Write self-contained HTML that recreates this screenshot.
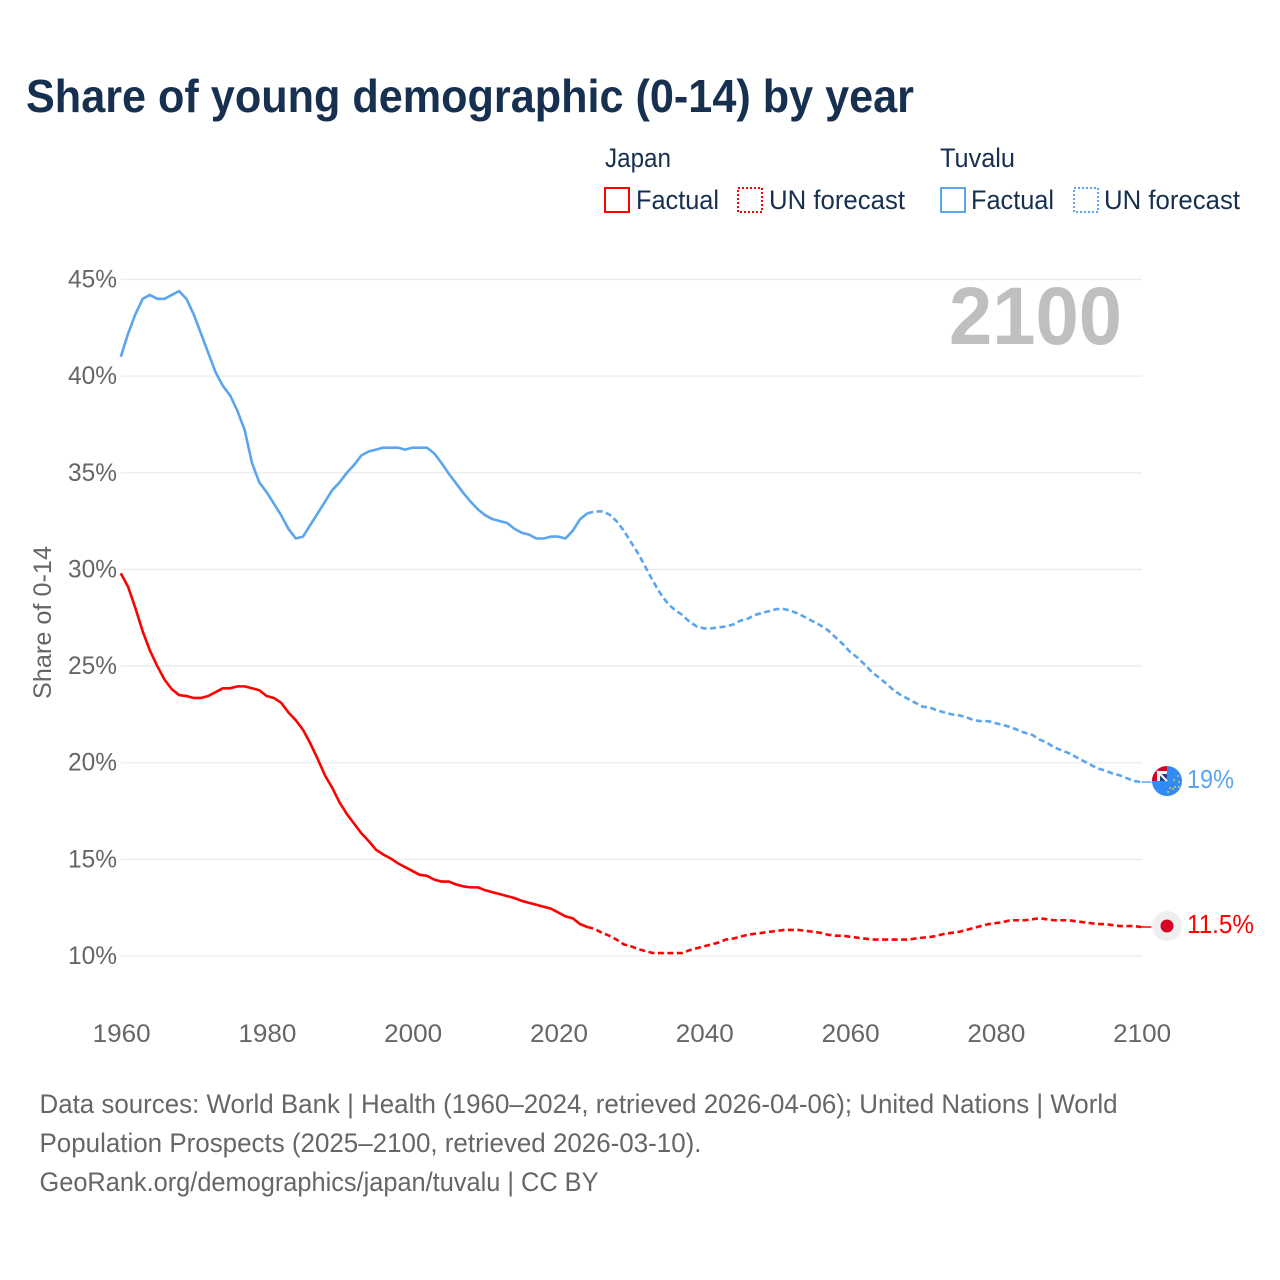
<!DOCTYPE html>
<html lang="en">
<head>
<meta charset="utf-8">
<title>Share of young demographic (0-14) by year</title>
<style>
html,body{margin:0;padding:0;background:#fff;}
svg{display:block;font-family:"Liberation Sans",sans-serif;}
.ink{fill:#17304f;}
.muted{fill:#666;}
</style>
</head>
<body>
<svg id="chart" width="1280" height="1280" viewBox="0 0 1280 1280" xmlns="http://www.w3.org/2000/svg">
  <defs>
    <clipPath id="flag-clip"><circle cx="1167" cy="781" r="15"/></clipPath>
  </defs>
  <rect width="1280" height="1280" fill="#fff"/>
  <text class="ink" x="26" y="112" font-size="46" font-weight="bold" textLength="888" lengthAdjust="spacingAndGlyphs">Share of young demographic (0-14) by year</text>

  <g>
    <text class="ink" x="605" y="167" font-size="27" textLength="66" lengthAdjust="spacingAndGlyphs">Japan</text>
    <rect x="605" y="188" width="24" height="24" fill="none" stroke="#ff0000" stroke-width="2"/>
    <text class="ink" x="636" y="209" font-size="27" textLength="83" lengthAdjust="spacingAndGlyphs">Factual</text>
    <rect x="738" y="188" width="24" height="24" fill="none" stroke="#ff0000" stroke-width="2" stroke-dasharray="2 2"/>
    <text class="ink" x="769" y="209" font-size="27" textLength="136" lengthAdjust="spacingAndGlyphs">UN forecast</text>
    <text class="ink" x="940" y="167" font-size="27" textLength="75" lengthAdjust="spacingAndGlyphs">Tuvalu</text>
    <rect x="941" y="188" width="24" height="24" fill="none" stroke="#5aa5ee" stroke-width="2"/>
    <text class="ink" x="971" y="209" font-size="27" textLength="83" lengthAdjust="spacingAndGlyphs">Factual</text>
    <rect x="1074" y="188" width="24" height="24" fill="none" stroke="#5aa5ee" stroke-width="2" stroke-dasharray="2 2"/>
    <text class="ink" x="1104" y="209" font-size="27" textLength="136" lengthAdjust="spacingAndGlyphs">UN forecast</text>
  </g>

  <g id="grid"></g>
  <g id="y-ticks"></g>
  <g id="x-ticks"></g>
  <text class="muted" transform="translate(51 699) rotate(-90)" font-size="25" textLength="153" lengthAdjust="spacingAndGlyphs">Share of 0-14</text>
  <text x="949" y="344" font-size="82" font-weight="bold" fill="#bfbfbf" textLength="173" lengthAdjust="spacingAndGlyphs">2100</text>

  <g id="series"></g>

  <g clip-path="url(#flag-clip)">
    <rect x="1150" y="764" width="34" height="34" fill="#338af3"/>
    <rect x="1150" y="764" width="17" height="17" fill="#d80027"/>
    <rect x="1157" y="771" width="10" height="10" fill="#f5f5f5"/>
    <rect x="1160" y="774" width="7" height="7" fill="#1f3f8f"/>
    <path d="M1157 771 L1167 781" stroke="#f5f5f5" stroke-width="2"/>
    <g fill="#ffda44">
      <circle cx="1178" cy="776" r="0.9"/><circle cx="1174" cy="780" r="0.9"/><circle cx="1179" cy="782" r="0.9"/>
      <circle cx="1175" cy="787" r="0.9"/><circle cx="1179" cy="787" r="0.9"/><circle cx="1170" cy="788" r="0.9"/>
      <circle cx="1173" cy="789" r="0.9"/><circle cx="1168" cy="792" r="0.9"/>
    </g>
  </g>
  <g>
    <circle cx="1167" cy="926" r="15" fill="#efefef"/>
    <circle cx="1167" cy="926" r="6.5" fill="#d80027"/>
  </g>
  <text x="1187" y="788" font-size="26" fill="#5aa5ee" textLength="47" lengthAdjust="spacingAndGlyphs">19%</text>
  <text x="1187" y="933" font-size="26" fill="#ff0000" textLength="67" lengthAdjust="spacingAndGlyphs">11.5%</text>

  <g>
    <text class="muted" x="39.5" y="1113" font-size="27" textLength="1078" lengthAdjust="spacingAndGlyphs">Data sources: World Bank | Health (1960–2024, retrieved 2026-04-06); United Nations | World</text>
    <text class="muted" x="39.5" y="1152" font-size="27" textLength="662" lengthAdjust="spacingAndGlyphs">Population Prospects (2025–2100, retrieved 2026-03-10).</text>
    <text class="muted" x="39.5" y="1191" font-size="27" textLength="559" lengthAdjust="spacingAndGlyphs">GeoRank.org/demographics/japan/tuvalu | CC BY</text>
  </g>
</svg>
<script>
const startYear = 1960;
const lastFactualYear = 2024;
const xTickLabels = [1960, 1980, 2000, 2020, 2040, 2060, 2080, 2100];
const yTickLabels = [10, 15, 20, 25, 30, 35, 40, 45];
const japanValues = [
  29.8,29.1,28.0,26.8,25.8,25.0,24.3,23.8,23.5,23.45,
  23.35,23.35,23.45,23.65,23.85,23.85,23.95,23.95,23.85,23.75,
  23.45,23.35,23.1,22.6,22.2,21.7,21.0,20.2,19.35,18.7,
  17.95,17.35,16.85,16.35,15.95,15.5,15.25,15.05,14.8,14.6,
  14.4,14.2,14.15,13.95,13.85,13.85,13.7,13.6,13.55,13.55,
  13.4,13.3,13.2,13.1,13.0,12.85,12.75,12.65,12.55,12.45,
  12.25,12.05,11.95,11.65,11.5,11.4,11.2,11.05,10.85,10.6,
  10.5,10.35,10.25,10.15,10.15,10.15,10.15,10.15,10.3,10.4,
  10.5,10.6,10.7,10.85,10.9,11.0,11.1,11.15,11.2,11.25,
  11.3,11.35,11.35,11.35,11.3,11.25,11.2,11.1,11.05,11.05,
  11.0,10.95,10.9,10.85,10.85,10.85,10.85,10.85,10.85,10.9,
  10.95,10.98,11.05,11.15,11.2,11.25,11.35,11.45,11.55,11.65,
  11.7,11.75,11.85,11.85,11.85,11.9,11.95,11.9,11.85,11.85,
  11.85,11.8,11.75,11.7,11.65,11.65,11.6,11.55,11.55,11.55,11.5
];
const tuvaluValues = [
  41.0,42.2,43.2,44.0,44.2,44.0,44.0,44.2,44.4,44.0,
  43.2,42.2,41.2,40.2,39.5,39.0,38.2,37.2,35.5,34.5,
  34.0,33.4,32.8,32.1,31.6,31.7,32.3,32.9,33.5,34.1,
  34.5,35.0,35.4,35.9,36.1,36.2,36.3,36.3,36.3,36.2,
  36.3,36.3,36.3,36.0,35.5,34.95,34.45,33.95,33.5,33.1,
  32.8,32.6,32.5,32.4,32.1,31.9,31.8,31.6,31.6,31.7,
  31.7,31.6,32.0,32.6,32.9,33.0,33.0,32.85,32.5,32.0,
  31.4,30.8,30.1,29.4,28.76,28.25,27.9,27.65,27.3,27.05,
  26.95,26.95,27.0,27.05,27.15,27.35,27.45,27.65,27.75,27.85,
  27.95,27.95,27.85,27.7,27.5,27.3,27.1,26.85,26.5,26.15,
  25.75,25.45,25.1,24.7,24.4,24.1,23.75,23.5,23.3,23.1,
  22.9,22.85,22.7,22.6,22.5,22.45,22.35,22.2,22.15,22.15,
  22.05,21.95,21.85,21.7,21.55,21.45,21.2,21.05,20.8,20.65,
  20.5,20.3,20.1,19.9,19.7,19.6,19.45,19.35,19.2,19.05,19.0
];

const SVG_NS = 'http://www.w3.org/2000/svg';
function xScale(year) { return 120.8 + (year - 1960) * (1141.4 - 120.8) / 140; }
function yScale(pct) { return 956 - (pct - 10) * (956 - 279.5) / 35; }
function pathFor(values, fromYear, toYear) {
  const pts = [];
  for (let y = fromYear; y <= toYear; y++) {
    pts.push(xScale(y).toFixed(2) + ' ' + yScale(values[y - startYear]).toFixed(2));
  }
  return 'M' + pts.join(' L');
}

const grid = document.getElementById('grid');
const yTicks = document.getElementById('y-ticks');
const xTicks = document.getElementById('x-ticks');
const series = document.getElementById('series');

yTickLabels.forEach(function (v) {
  const line = document.createElementNS(SVG_NS, 'line');
  
  
  line.setAttribute('x1', 121);
  line.setAttribute('x2', 1142);
  line.setAttribute('y1', yScale(v));
  line.setAttribute('y2', yScale(v));
  line.setAttribute('stroke', '#ebebeb');
  line.setAttribute('stroke-width', '1.3');
  grid.appendChild(line);

  const label = document.createElementNS(SVG_NS, 'text');
  
  
  label.setAttribute('class', 'muted');
  label.setAttribute('x', 117);
  label.setAttribute('y', yScale(v) + 8);
  label.setAttribute('text-anchor', 'end');
  label.setAttribute('font-size', '25');
  label.setAttribute('textLength', '49');
  label.setAttribute('lengthAdjust', 'spacingAndGlyphs');
  label.textContent = v + '%';
  yTicks.appendChild(label);
});

xTickLabels.forEach(function (v) {
  const label = document.createElementNS(SVG_NS, 'text');
  
  
  label.setAttribute('class', 'muted');
  label.setAttribute('x', xScale(v) + 0.8);
  label.setAttribute('y', 1042);
  label.setAttribute('text-anchor', 'middle');
  label.setAttribute('font-size', '25');
  label.setAttribute('textLength', '58');
  label.setAttribute('lengthAdjust', 'spacingAndGlyphs');
  label.textContent = v;
  xTicks.appendChild(label);
});

function drawSeries(name, values, color) {
  const solid = document.createElementNS(SVG_NS, 'path');
  
  
  solid.setAttribute('d', pathFor(values, startYear, lastFactualYear));
  solid.setAttribute('fill', 'none');
  solid.setAttribute('stroke', color);
  solid.setAttribute('stroke-width', '2.6');
  solid.setAttribute('stroke-linejoin', 'round');
  series.appendChild(solid);

  const dashed = document.createElementNS(SVG_NS, 'path');
  
  
  dashed.setAttribute('d', pathFor(values, lastFactualYear, 2100));
  dashed.setAttribute('fill', 'none');
  dashed.setAttribute('stroke', color);
  dashed.setAttribute('stroke-width', '2.6');
  dashed.setAttribute('stroke-dasharray', '6 3.5');
  series.appendChild(dashed);

  const lastY = yScale(values[values.length - 1]);
  const connector = document.createElementNS(SVG_NS, 'line');
  
  
  connector.setAttribute('x1', xScale(2100));
  connector.setAttribute('x2', xScale(2100) + 10);
  connector.setAttribute('y1', lastY);
  connector.setAttribute('y2', lastY);
  connector.setAttribute('stroke', color);
  connector.setAttribute('stroke-width', '1.5');
  series.appendChild(connector);
}
drawSeries('japan', japanValues, '#ff0000');
drawSeries('tuvalu', tuvaluValues, '#5aa5ee');
</script>
</body>
</html>
